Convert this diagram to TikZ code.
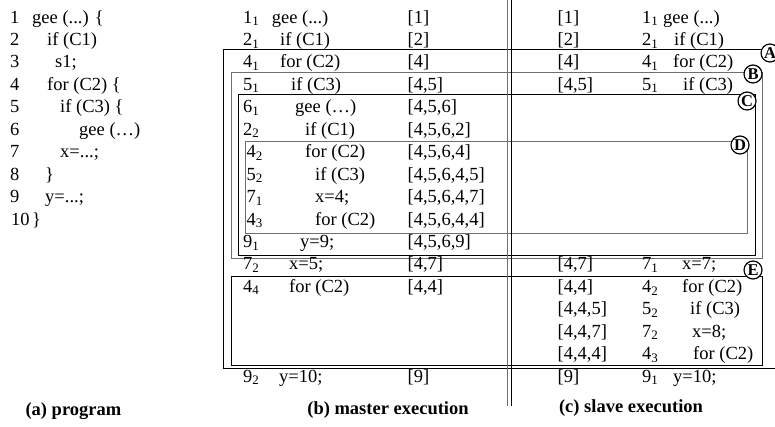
\documentclass[tikz,border=0pt]{standalone}
\usepackage{fontspec}
\setmainfont{Liberation Serif}
\definecolor{LineGray}{RGB}{110,110,110}
\newcommand{\occ}[2]{#1\textsubscript{#2}}

\begin{document}
\begin{tikzpicture}[
    x=1pt,
    y=-1pt,
    font=\fontsize{18.5}{22}\selectfont,
    txt/.style={anchor=base west, inner sep=0pt},
    caption/.style={anchor=base, inner sep=0pt, font=\fontsize{18.5}{22}\selectfont\bfseries},
    tag/.style={
        circle,
        draw,
        line width=1.2pt,
        fill=white,
        inner sep=0pt,
        minimum size=18pt,
        font=\fontsize{16.5}{16.5}\selectfont\bfseries
    },
    darkline/.style={draw=black, line width=1pt},
    grayline/.style={draw=LineGray, line width=1pt}
]
\useasboundingbox (0,0) rectangle (775,426);

% boxes
\coordinate (Anw) at (223.3,49.3);
\coordinate (Ase) at (778,368);
\coordinate (Bnw) at (231,72.7);
\coordinate (Bse) at (762.5,258.3);
\coordinate (Cnw) at (238.3,94.3);
\coordinate (Cse) at (755,255.5);
\coordinate (Dnw) at (245.7,141.7);
\coordinate (Dse) at (747,233);
\coordinate (Enw) at (231,276.7);
\coordinate (Ese) at (762.3,365.7);

\draw[darkline] (Anw) rectangle (Ase);
\draw[grayline] (Bnw) rectangle (Bse);
\draw[darkline] (Cnw) rectangle (Cse);
\draw[grayline] (Dnw) rectangle (Dse);
\draw[darkline] (Enw) rectangle (Ese);

% double separator between master and slave
\coordinate (sepgtop) at (507.7,0);
\coordinate (sepgbot) at (507.7,406);
\coordinate (sepktop) at (511,0);
\coordinate (sepkbot) at (511,406);
\draw[grayline, line width=1.4pt] (sepgtop) -- (sepgbot);
\draw[darkline] (sepktop) -- (sepkbot);

\node[tag] (tagA) at (770,53) {A};
\node[tag] (tagB) at (753,74) {B};
\node[tag] (tagC) at (747,101) {C};
\node[tag] (tagD) at (740,145) {D};
\node[tag] (tagE) at (753,270) {E};

% (a) program
\node[txt] (pn1) at (10,23.00) {1};
\node[txt] (ps1) at (32,23.00) {gee (...) \{};
\node[txt] (pn2) at (10,45.45) {2};
\node[txt] (ps2) at (47,45.45) {if (C1)};
\node[txt] (pn3) at (10,67.90) {3};
\node[txt] (ps3) at (55,67.90) {s1;};
\node[txt] (pn4) at (10,90.35) {4};
\node[txt] (ps4) at (47,90.35) {for (C2) \{};
\node[txt] (pn5) at (10,112.80) {5};
\node[txt] (ps5) at (60,112.80) {if (C3) \{};
\node[txt] (pn6) at (10,135.25) {6};
\node[txt] (ps6) at (79,135.25) {gee (…)};
\node[txt] (pn7) at (10,157.70) {7};
\node[txt] (ps7) at (60,157.70) {x=...;};
\node[txt] (pn8) at (10,180.15) {8};
\node[txt] (ps8) at (45,180.15) {\}};
\node[txt] (pn9) at (10,202.60) {9};
\node[txt] (ps9) at (45,202.60) {y=...;};
\node[txt] (pn10) at (11,225.05) {10};
\node[txt] (ps10) at (32,225.05) {\}};

% (b) master execution
\node[txt] (mn0) at (243,23.00) {\occ{1}{1}};
\node[txt] (ms0) at (271.7,23.00) {gee (...)};
\node[txt] (mp0) at (407.5,23.00) {[1]};
\node[txt] (mn1) at (243,45.45) {\occ{2}{1}};
\node[txt] (ms1) at (280,45.45) {if (C1)};
\node[txt] (mp1) at (407.5,45.45) {[2]};
\node[txt] (mn2) at (243,67.90) {\occ{4}{1}};
\node[txt] (ms2) at (280,67.90) {for (C2)};
\node[txt] (mp2) at (407.5,67.90) {[4]};
\node[txt] (mn3) at (243,90.35) {\occ{5}{1}};
\node[txt] (ms3) at (291,90.35) {if (C3)};
\node[txt] (mp3) at (407.5,90.35) {[4,5]};
\node[txt] (mn4) at (243,112.80) {\occ{6}{1}};
\node[txt] (ms4) at (295,112.80) {gee (…)};
\node[txt] (mp4) at (407.5,112.80) {[4,5,6]};
\node[txt] (mn5) at (243,135.25) {\occ{2}{2}};
\node[txt] (ms5) at (305,135.25) {if (C1)};
\node[txt] (mp5) at (407.5,135.25) {[4,5,6,2]};
\node[txt] (mn6) at (246.5,157.70) {\occ{4}{2}};
\node[txt] (ms6) at (305,157.70) {for (C2)};
\node[txt] (mp6) at (407.5,157.70) {[4,5,6,4]};
\node[txt] (mn7) at (246.5,180.15) {\occ{5}{2}};
\node[txt] (ms7) at (315,180.15) {if (C3)};
\node[txt] (mp7) at (407.5,180.15) {[4,5,6,4,5]};
\node[txt] (mn8) at (246.5,202.60) {\occ{7}{1}};
\node[txt] (ms8) at (315,202.60) {x=4;};
\node[txt] (mp8) at (407.5,202.60) {[4,5,6,4,7]};
\node[txt] (mn9) at (246.5,225.05) {\occ{4}{3}};
\node[txt] (ms9) at (315,225.05) {for (C2)};
\node[txt] (mp9) at (407.5,225.05) {[4,5,6,4,4]};
\node[txt] (mn10) at (243,247.50) {\occ{9}{1}};
\node[txt] (ms10) at (300,247.50) {y=9;};
\node[txt] (mp10) at (407.5,247.50) {[4,5,6,9]};
\node[txt] (mn11) at (243,269.95) {\occ{7}{2}};
\node[txt] (ms11) at (289,269.95) {x=5;};
\node[txt] (mp11) at (407.5,269.95) {[4,7]};
\node[txt] (mn12) at (243,292.40) {\occ{4}{4}};
\node[txt] (ms12) at (289,292.40) {for (C2)};
\node[txt] (mp12) at (407.5,292.40) {[4,4]};
\node[txt] (mn16) at (243,382.20) {\occ{9}{2}};
\node[txt] (ms16) at (279,382.20) {y=10;};
\node[txt] (mp16) at (407.5,382.20) {[9]};

% (c) slave execution
\node[txt] (sp0) at (557.5,23.00) {[1]};
\node[txt] (sn0) at (642,23.00) {\occ{1}{1}};
\node[txt] (ss0) at (663,23.00) {gee (...)};
\node[txt] (sp1) at (557.5,45.45) {[2]};
\node[txt] (sn1) at (642,45.45) {\occ{2}{1}};
\node[txt] (ss1) at (674,45.45) {if (C1)};
\node[txt] (sp2) at (557.5,67.90) {[4]};
\node[txt] (sn2) at (642,67.90) {\occ{4}{1}};
\node[txt] (ss2) at (673,67.90) {for (C2)};
\node[txt] (sp3) at (557.5,90.35) {[4,5]};
\node[txt] (sn3) at (642,90.35) {\occ{5}{1}};
\node[txt] (ss3) at (683,90.35) {if (C3)};
\node[txt] (sp11) at (557.5,269.95) {[4,7]};
\node[txt] (sn11) at (642,269.95) {\occ{7}{1}};
\node[txt] (ss11) at (682,269.95) {x=7;};
\node[txt] (sp12) at (557.5,292.40) {[4,4]};
\node[txt] (sn12) at (642,292.40) {\occ{4}{2}};
\node[txt] (ss12) at (682,292.40) {for (C2)};
\node[txt] (sp13) at (557.5,314.85) {[4,4,5]};
\node[txt] (sn13) at (642,314.85) {\occ{5}{2}};
\node[txt] (ss13) at (690,314.85) {if (C3)};
\node[txt] (sp14) at (557.5,337.30) {[4,4,7]};
\node[txt] (sn14) at (642,337.30) {\occ{7}{2}};
\node[txt] (ss14) at (692,337.30) {x=8;};
\node[txt] (sp15) at (557.5,359.75) {[4,4,4]};
\node[txt] (sn15) at (642,359.75) {\occ{4}{3}};
\node[txt] (ss15) at (693,359.75) {for (C2)};
\node[txt] (sp16) at (557.5,382.20) {[9]};
\node[txt] (sn16) at (642,382.20) {\occ{9}{1}};
\node[txt] (ss16) at (673,382.20) {y=10;};

\node[caption] (capa) at (73.4,415) {(a) program};
\node[caption] (capb) at (388,414) {(b) master execution};
\node[caption] (capc) at (631,412) {(c) slave execution};

\end{tikzpicture}
\end{document}
